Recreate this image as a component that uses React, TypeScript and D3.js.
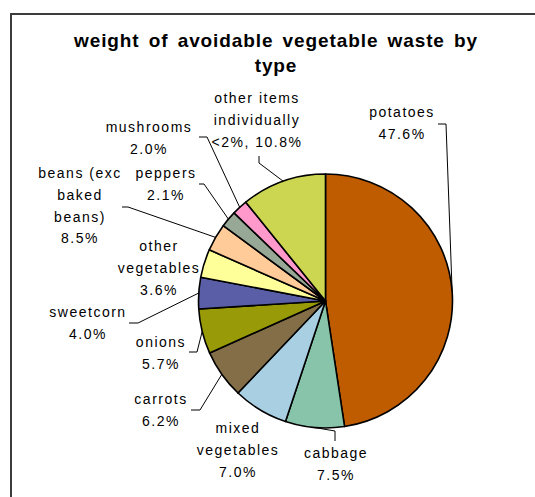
import React from "react";
import * as d3 from "d3";

const categories = [
  "potatoes",
  "cabbage",
  "mixed vegetables",
  "carrots",
  "onions",
  "sweetcorn",
  "other vegetables",
  "beans (exc baked beans)",
  "peppers",
  "mushrooms",
  "other items individually <2%",
];
// slice shares as drawn
const values = [47.6, 7.5, 7.0, 6.2, 5.7, 4.0, 3.6, 3.5, 2.1, 2.0, 10.8];
// label texts as printed on the chart
const labelLines = [
  ["potatoes", "47.6%"],
  ["cabbage", "7.5%"],
  ["mixed", "vegetables", "7.0%"],
  ["carrots", "6.2%"],
  ["onions", "5.7%"],
  ["sweetcorn", "4.0%"],
  ["other", "vegetables", "3.6%"],
  ["beans (exc", "baked", "beans)", "8.5%"],
  ["peppers", "2.1%"],
  ["mushrooms", "2.0%"],
  ["other items", "individually", "<2%, 10.8%"],
];
const colors = [
  "#C05C00",
  "#88C4AA",
  "#A8CFE2",
  "#846E48",
  "#989A08",
  "#5A5EA6",
  "#FFFF99",
  "#FFCC99",
  "#97A896",
  "#FF99CC",
  "#CDD650",
];
const titleLines = ["weight of avoidable vegetable waste by", "type"];

// layout: label anchor (centre x, first baseline y) and leader elbow points
const labelLayout: { x: number; y: number; leader: number[][] | null }[] = [
  { x: 402, y: 117, leader: [[438, 124], [446, 124]] },
  { x: 336, y: 458, leader: [[335, 441], [335, 431]] },
  { x: 238, y: 433, leader: null },
  { x: 161, y: 404, leader: [[191, 410], [200, 410]] },
  { x: 161, y: 347, leader: [[189, 352], [197, 352]] },
  { x: 88, y: 317, leader: [[129, 323], [138, 323]] },
  { x: 159, y: 251, leader: null },
  { x: 80, y: 178, leader: [[122, 207], [128, 207]] },
  { x: 166, y: 178, leader: [[199, 184], [204, 184]] },
  { x: 149, y: 132, leader: [[199, 137], [207, 137]] },
  { x: 257, y: 103, leader: [[259, 156], [259, 163]] },
];

const W = 535;
const H = 497;
const cx = 325.5;
const cy = 301;
const R = 127;
const lineH = 21.8;
const font = "'Liberation Sans', Arial, sans-serif";

export default function App() {
  const pie = d3
    .pie<number>()
    .sort(null)
    .value((d) => d)
    .startAngle(0)
    .endAngle(2 * Math.PI);
  const arcs = pie(values);
  const arc = d3.arc<d3.PieArcDatum<number>>().innerRadius(0).outerRadius(R);
  const line = d3.line();

  return (
    <svg
      width={W}
      height={H}
      style={{ position: "absolute", left: 0, top: 0, background: "#fff" }}
    >
      <rect x={0} y={0} width={W} height={H} fill="#fff" />
      <path d={`M11,${H} V14 H${W}`} fill="none" stroke="#3c3c3c" strokeWidth={2} />
      {titleLines.map((t, i) => (
        <text
          key={i}
          x={276}
          y={47 + i * 25}
          textAnchor="middle"
          fontFamily={font}
          fontWeight="bold"
          fontSize={19}
          letterSpacing={0.9}
          wordSpacing={3}
          fill="#000"
        >
          {t}
        </text>
      ))}
      <g transform={`translate(${cx},${cy})`}>
        {arcs.map((a, i) => (
          <path
            key={categories[i]}
            d={arc(a) || ""}
            fill={colors[i]}
            stroke="#000"
            strokeWidth={1.6}
            strokeLinejoin="round"
          />
        ))}
      </g>
      {arcs.map((a, i) => {
        const lay = labelLayout[i];
        if (!lay.leader) return null;
        const mid = (a.startAngle + a.endAngle) / 2;
        const end: [number, number] = [cx + R * Math.sin(mid), cy - R * Math.cos(mid)];
        const pts = [...lay.leader.map((p) => [p[0], p[1]] as [number, number]), end];
        return (
          <path
            key={"l" + i}
            d={line(pts) || ""}
            fill="none"
            stroke="#000"
            strokeWidth={1}
          />
        );
      })}
      {labelLines.map((lines, i) => {
        const lay = labelLayout[i];
        return (
          <text
            key={"t" + i}
            textAnchor="middle"
            fontFamily={font}
            fontSize={14}
            letterSpacing={1.5}
            fill="#000"
          >
            {lines.map((s, j) => (
              <tspan key={j} x={lay.x} y={lay.y + j * lineH}>
                {s}
              </tspan>
            ))}
          </text>
        );
      })}
    </svg>
  );
}
